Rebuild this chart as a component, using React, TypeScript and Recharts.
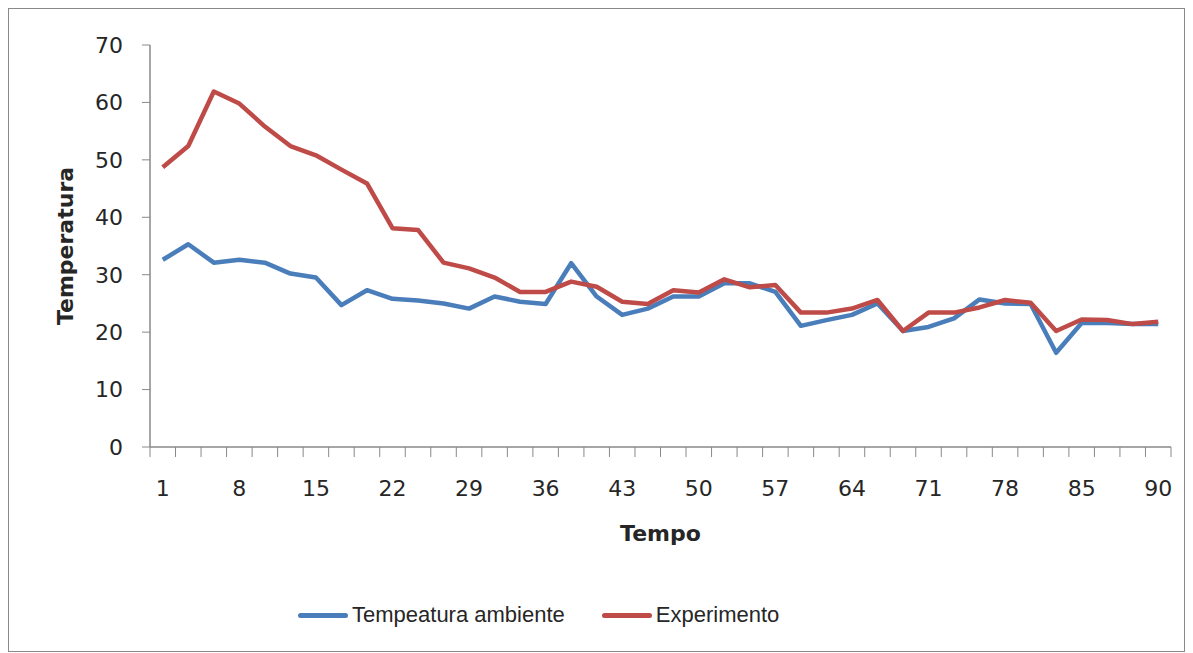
import { LineChart, Line, XAxis, YAxis, Legend } from "recharts";

// time labels (categories) and the two temperature series
const tempo = [
  1, 3, 6, 8, 10, 13, 15, 17, 20, 22, 24, 27, 29, 31, 34, 36, 38, 41, 43, 45,
  48, 50, 52, 55, 57, 59, 62, 64, 66, 69, 71, 73, 76, 78, 80, 83, 85, 87, 88, 90,
];

const ambiente = [
  32.6, 35.3, 32.1, 32.6, 32.1, 30.2, 29.5, 24.7, 27.3, 25.8, 25.5, 25.0, 24.1,
  26.2, 25.3, 24.9, 32.0, 26.2, 23.0, 24.1, 26.2, 26.2, 28.5, 28.5, 27.0, 21.1,
  22.1, 23.0, 25.0, 20.2, 20.9, 22.4, 25.7, 25.0, 24.9, 16.4, 21.6, 21.6, 21.4,
  21.4,
];

const experimento = [
  48.7, 52.4, 61.9, 59.8, 55.8, 52.4, 50.8, 48.3, 45.9, 38.1, 37.8, 32.1, 31.1,
  29.5, 27.0, 27.0, 28.8, 27.9, 25.3, 24.9, 27.3, 26.9, 29.2, 27.8, 28.2, 23.4,
  23.4, 24.1, 25.6, 20.2, 23.4, 23.4, 24.3, 25.6, 25.1, 20.2, 22.2, 22.1, 21.4,
  21.8,
];

const yTicks = [0, 10, 20, 30, 40, 50, 60, 70];

const series = ["ambiente", "experimento"];

const data = tempo.map((t, i) => ({
  tempo: t,
  ambiente: ambiente[i],
  experimento: experimento[i],
}));

const WIDTH = 1175;
const HEIGHT = 642;
const Y_AXIS_WIDTH = 141;
const RIGHT = 13;
const PLOT_WIDTH = WIDTH - Y_AXIS_WIDTH - RIGHT;
const BAND = PLOT_WIDTH / tempo.length;

const axisColor = "#898989";
const textColor = "#262626";
const tickFont = "'DejaVu Sans', sans-serif";

// Excel-style category ticks: marks sit between categories, label every 3rd
const TempoTick = (props: any) => {
  const { x, y, index, payload } = props;
  const half = BAND / 2;
  return (
    <g>
      <line x1={x - half} y1={y} x2={x - half} y2={y + 10} stroke={axisColor} />
      {index === tempo.length - 1 && (
        <line x1={x + half} y1={y} x2={x + half} y2={y + 10} stroke={axisColor} />
      )}
      {index % 3 === 0 && (
        <text
          x={x}
          y={y + 41}
          textAnchor="middle"
          dominantBaseline="central"
          fill={textColor}
          fontSize={22}
          fontFamily={tickFont}
        >
          {payload.value}
        </text>
      )}
    </g>
  );
};

const XTitle = (props: any) => {
  const { x, y, width } = props.viewBox;
  return (
    <text
      x={x + width / 2}
      y={y + 86}
      textAnchor="middle"
      dominantBaseline="central"
      fill={textColor}
      fontSize={22}
      fontWeight="bold"
      fontFamily={tickFont}
    >
      Tempo
    </text>
  );
};

const YTitle = (props: any) => {
  const { x, y, height } = props.viewBox;
  const cx = x + 56;
  const cy = y + height / 2;
  return (
    <text
      x={cx}
      y={cy}
      transform={`rotate(-90, ${cx}, ${cy})`}
      textAnchor="middle"
      dominantBaseline="central"
      fill={textColor}
      fontSize={22}
      fontWeight="bold"
      fontFamily={tickFont}
    >
      Temperatura
    </text>
  );
};

const LegendContent = (props: any) => {
  // keep the series order instead of the alphabetical one
  const items = [...(props.payload || [])].sort(
    (a: any, b: any) => series.indexOf(a.dataKey) - series.indexOf(b.dataKey)
  );
  return (
    <div style={{ height: 94, position: "relative" }}>
      <div
        style={{
          position: "absolute",
          top: 45,
          left: 289,
          display: "flex",
          alignItems: "center",
          height: 26,
        }}
      >
        {items.map((entry: any, i: number) => (
          <div
            key={entry.value}
            style={{ display: "flex", alignItems: "center", marginLeft: i === 0 ? 0 : 37 }}
          >
            <span
              style={{
                display: "inline-block",
                width: 50,
                height: 5,
                borderRadius: 3,
                background: entry.color,
                marginRight: 4,
              }}
            />
            <span
              style={{
                fontFamily: "'Liberation Sans', sans-serif",
                fontSize: 22,
                color: textColor,
                lineHeight: "26px",
              }}
            >
              {entry.value}
            </span>
          </div>
        ))}
      </div>
    </div>
  );
};

export default function App() {
  return (
    <div
      style={{
        width: WIDTH,
        height: HEIGHT,
        border: `1px solid ${axisColor}`,
        background: "#fff",
      }}
    >
      <LineChart
        width={WIDTH}
        height={HEIGHT}
        data={data}
        margin={{ top: 36, right: RIGHT, left: 0, bottom: 0 }}
      >
        <XAxis
          dataKey="tempo"
          type="category"
          interval={0}
          height={110}
          padding={{ left: BAND / 2, right: BAND / 2 }}
          axisLine={{ stroke: axisColor, strokeWidth: 1.5 }}
          tickLine={false}
          tickSize={0}
          tickMargin={0}
          tick={<TempoTick />}
          label={<XTitle />}
        />
        <YAxis
          width={Y_AXIS_WIDTH}
          domain={[0, 70]}
          ticks={yTicks}
          interval={0}
          axisLine={{ stroke: axisColor, strokeWidth: 1.5 }}
          tickLine={{ stroke: axisColor }}
          tickSize={8}
          tickMargin={19}
          tick={{ fill: textColor, fontSize: 22, fontFamily: tickFont }}
          label={<YTitle />}
        />
        <Legend
          verticalAlign="bottom"
          wrapperStyle={{ left: 0, width: WIDTH, height: 94 }}
          content={<LegendContent />}
        />
        <Line
          name="Tempeatura ambiente"
          dataKey="ambiente"
          stroke="#4A7EBB"
          strokeWidth={4.5}
          strokeLinejoin="round"
          dot={false}
          isAnimationActive={false}
        />
        <Line
          name="Experimento"
          dataKey="experimento"
          stroke="#BE4B48"
          strokeWidth={4.5}
          strokeLinejoin="round"
          dot={false}
          isAnimationActive={false}
        />
      </LineChart>
    </div>
  );
}
